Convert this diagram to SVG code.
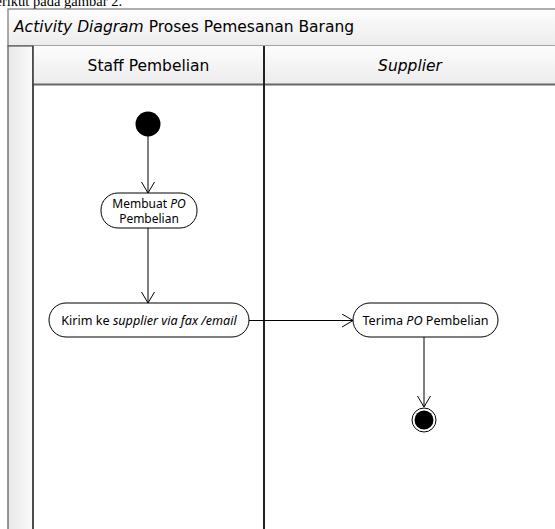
<svg xmlns="http://www.w3.org/2000/svg" width="555" height="529" viewBox="0 0 555 529">
<style>
.t{font-family:"DejaVu Sans",Verdana,sans-serif;font-size:15.5px;fill:#000}
.n{font-family:"Noto Sans","Open Sans",sans-serif;font-size:12.6px;fill:#000}
.m{font-family:"Noto Sans","Open Sans",sans-serif;font-size:12px;fill:#000}
.act{fill:#fff;stroke:#000;stroke-width:1}
.edge{stroke:#000;stroke-width:1;fill:none;marker-end:url(#open)}
.it{font-style:italic}
</style>
<defs>
<marker id="open" markerWidth="14" markerHeight="14" refX="11" refY="7" orient="auto" markerUnits="userSpaceOnUse">
<path d="M0,0.5 L11,7 L0,13.5" fill="none" stroke="#000" stroke-width="1"/>
</marker>
<linearGradient id="gv" x1="0" y1="0" x2="0" y2="1">
<stop offset="0" stop-color="#fdfdfd"/><stop offset="1" stop-color="#ececec"/>
</linearGradient>
<linearGradient id="gh" x1="0" y1="0" x2="1" y2="0">
<stop offset="0" stop-color="#e8e8e8"/><stop offset="1" stop-color="#fbfbfb"/>
</linearGradient>
</defs>
<rect width="555" height="529" fill="#fff"/>
<text x="122" y="6" text-anchor="end" style="font-family:'Liberation Serif',serif;font-size:14.5px">berikut pada gambar 2.</text>
<g id="frame">
<rect x="8" y="9" width="560" height="37" fill="url(#gv)" stroke="#777" stroke-width="1.2"/>
<rect x="8" y="46" width="25" height="500" fill="url(#gh)" stroke="#555" stroke-width="1.2"/>
<rect x="33" y="46" width="540" height="38" fill="url(#gv)"/>
<line x1="33" y1="84.5" x2="555" y2="84.5" stroke="#666" stroke-width="2"/>
<line x1="33" y1="46" x2="33" y2="529" stroke="#333" stroke-width="1.5"/>
<line x1="264" y1="46" x2="264" y2="529" stroke="#222" stroke-width="2"/>
<text class="t" x="14" y="32"><tspan class="it">Activity Diagram</tspan> Proses Pemesanan Barang</text>
<text class="t" x="148.5" y="71" text-anchor="middle">Staff Pembelian</text>
<text class="t it" x="410" y="71" text-anchor="middle">Supplier</text>
</g>
<g id="connectors">
<line class="edge" x1="148" y1="136" x2="148" y2="193"/>
<line class="edge" x1="148" y1="228" x2="148" y2="303"/>
<line class="edge" x1="249" y1="320.5" x2="353" y2="320.5"/>
<line class="edge" x1="424" y1="337" x2="424" y2="407"/>
</g>
<g id="start"><circle cx="148" cy="124" r="12.5" fill="#000"/></g>
<g id="membuat">
<rect class="act" x="101" y="193" width="96" height="35" rx="17" ry="17"/>
<text class="m" x="149" y="208" text-anchor="middle">Membuat <tspan class="it">PO</tspan></text>
<text class="m" x="149" y="222.5" text-anchor="middle">Pembelian</text>
</g>
<g id="kirim">
<rect class="act" x="49" y="303" width="200" height="34" rx="17" ry="17"/>
<text class="n" x="149" y="325" text-anchor="middle">Kirim ke <tspan class="it">supplier via fax /email</tspan></text>
</g>
<g id="terima">
<rect class="act" x="353" y="303" width="145" height="34" rx="17" ry="17"/>
<text class="n" x="425.5" y="325" text-anchor="middle">Terima <tspan class="it">PO</tspan> Pembelian</text>
</g>
<g id="end">
<circle cx="424" cy="420" r="12" fill="#fff" stroke="#000" stroke-width="1"/>
<circle cx="424" cy="420" r="9.5" fill="#000"/>
</g>
</svg>
